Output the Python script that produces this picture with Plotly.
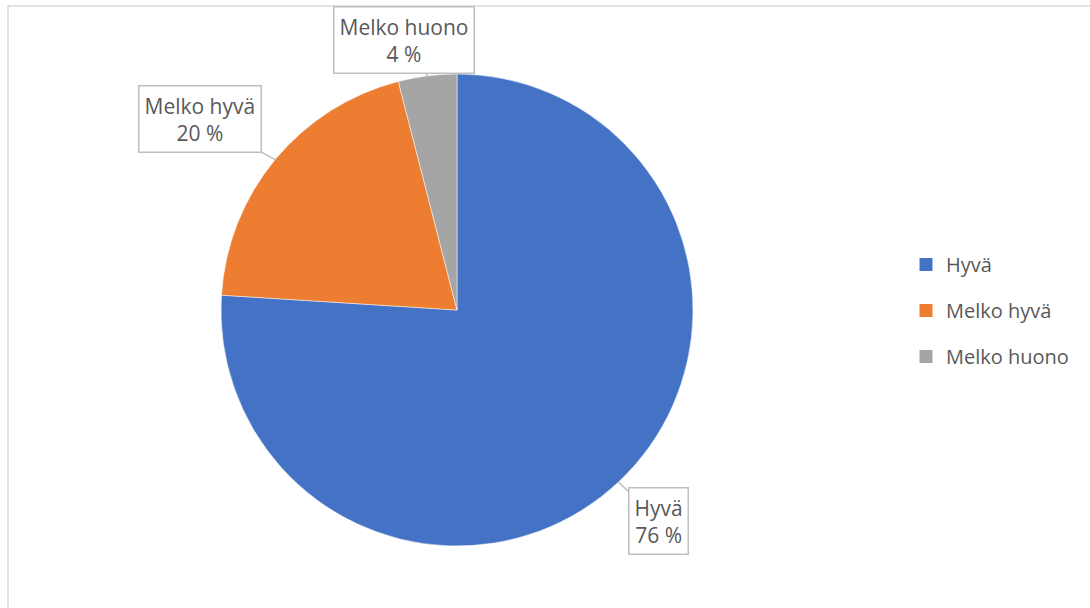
import math
import plotly.graph_objects as go

# Data
categories = ["Hyvä", "Melko hyvä", "Melko huono"]
shares = [76, 20, 4]
colors = ["#4472C4", "#ED7D31", "#A5A5A5"]

W, H = 1090, 608
FONT = "Open Sans"
TXT = "#595959"

# Pie placement (pixels)
cx_px, cy_px, r_px = 457, 310, 236
dom_x = [(cx_px - r_px) / W, (cx_px + r_px) / W]
dom_y = [1 - (cy_px + r_px) / H, 1 - (cy_px - r_px) / H]

fig = go.Figure()
fig.add_trace(go.Pie(
    labels=categories,
    values=shares,
    sort=False,
    direction="clockwise",
    rotation=0,
    marker=dict(colors=colors, line=dict(color="white", width=0.5)),
    textinfo="none",
    hoverinfo="label+percent",
    showlegend=False,
    domain=dict(x=dom_x, y=dom_y),
))

# Legend entries (square swatches)
for name, col in zip(categories, colors):
    fig.add_trace(go.Scatter(
        x=[None], y=[None], mode="markers", name=name,
        legendgroup=name,
        marker=dict(symbol="square", size=13, color=col),
        hoverinfo="skip",
    ))

# Callout labels anchored on the slice edge at each slice's mid-angle
offsets = [(40, 39), (-75, -41), (-23, -36)]
total = sum(shares)
cum = 0
for name, val, (ox, oy) in zip(categories, shares, offsets):
    mid = (cum + val / 2) / total * 2 * math.pi
    cum += val
    px = cx_px + r_px * math.sin(mid)
    py = cy_px - r_px * math.cos(mid)
    fig.add_annotation(
        x=px / W, y=1 - py / H, xref="paper", yref="paper",
        text=f"{name}<br>{val / total * 100:.0f} %",
        showarrow=True, arrowhead=0, arrowwidth=1.5, arrowcolor="#BFBFBF",
        ax=ox, ay=oy, axref="pixel", ayref="pixel",
        font=dict(family=FONT, size=21, color=TXT),
        align="center",
        bgcolor="white", bordercolor="#BFBFBF", borderwidth=1.5, borderpad=5,
    )

# Chart area frame
fig.add_shape(type="rect", xref="paper", yref="paper",
              x0=8 / W, x1=1.05, y0=-0.05, y1=1 - 6 / H,
              line=dict(color="#D9D9D9", width=1.5), fillcolor="rgba(0,0,0,0)",
              layer="below")

fig.update_layout(
    width=W, height=H,
    margin=dict(l=0, r=0, t=0, b=0),
    paper_bgcolor="white", plot_bgcolor="white",
    xaxis=dict(visible=False), yaxis=dict(visible=False),
    font=dict(family=FONT, color=TXT),
    legend=dict(
        x=906 / W, xanchor="left",
        y=1 - 245 / H, yanchor="top",
        font=dict(family=FONT, size=20, color=TXT),
        tracegroupgap=17,
        bgcolor="rgba(0,0,0,0)",
    ),
)

fig.write_html("out.html")
